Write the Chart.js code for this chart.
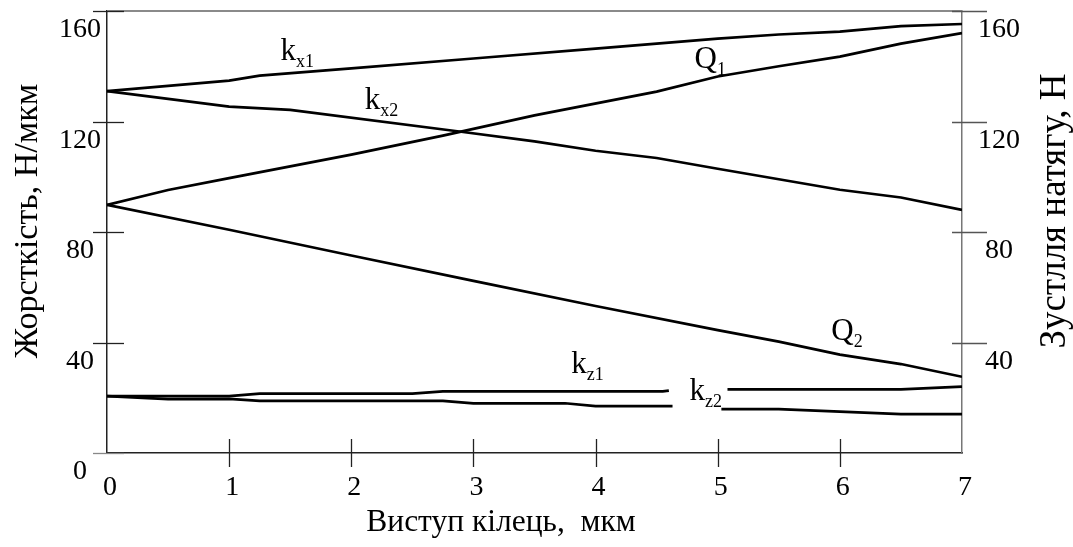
<!DOCTYPE html>
<html><head><meta charset="utf-8">
<script src="https://cdn.jsdelivr.net/npm/chart.js@4.4.1/dist/chart.umd.min.js"></script>
<style>html,body{margin:0;padding:0;background:#fff;}canvas{display:block;}</style>
</head><body>
<canvas id="c" width="1073" height="547"></canvas>
<script>
// ---- data ----
const xTickValues = [0, 1, 2, 3, 4, 5, 6, 7];
const yTickValues = [0, 40, 80, 120, 160];

const kx1X = [0, 1, 1.25, 2, 3, 4, 5, 5.5, 6, 6.5, 7];
const kx1Y = [131, 134.8, 136.6, 139.2, 142.8, 146.4, 150, 151.5, 152.5, 154.5, 155.3];

const kx2X = [0, 1, 1.5, 2.9, 3.5, 4, 4.5, 5, 6, 6.5, 7];
const kx2Y = [131, 125.4, 124.2, 116.3, 112.8, 109.4, 106.8, 102.9, 95.3, 92.5, 88];

const Q1X = [0, 0.5, 1, 2, 2.75, 3.5, 4.5, 5, 5.5, 6, 6.5, 7];
const Q1Y = [89.8, 95.2, 99.5, 108, 114.9, 122.2, 130.8, 136.3, 140, 143.5, 148.2, 152];

const Q2X = [0, 1, 2, 3, 4, 5, 5.5, 6, 6.5, 7];
const Q2Y = [89.8, 80.8, 71.5, 62.3, 53.2, 44.5, 40.3, 35.6, 32.2, 27.6];

const kz1X = [0, 1, 1.25, 2.5, 2.75, 4.55, 4.6, 4.8, 5.08, 6.5, 7];
const kz1Y = [20.6, 20.6, 21.5, 21.5, 22.3, 22.3, 22.6, null, 23.0, 23.0, 24.0];

const kz2X = [0, 0.5, 1, 1.25, 2.75, 3, 3.75, 4, 4.63, 4.8, 5.03, 5.5, 6.5, 7];
const kz2Y = [20.6, 19.5, 19.6, 18.9, 18.9, 18.0, 18.0, 17.0, 17.0, null, 15.9, 15.9, 14.1, 14.1];

const xTitle = 'Виступ кілець,  мкм';
const yLeftTitle = 'Жорсткість, Н/мкм';
const yRightTitle = 'Зустлля натягу, Н';

// curve labels: main letter, subscript, anchor in data coordinates
const curveLabels = [
  {main: 'k', sub: 'x1', x: 1.42, y: 142.3},
  {main: 'k', sub: 'x2', x: 2.11, y: 124.5},
  {main: 'Q', sub: '1',  x: 4.81, y: 139.4},
  {main: 'Q', sub: '2',  x: 5.93, y: 40.9},
  {main: 'k', sub: 'z1', x: 3.80, y: 29.0},
  {main: 'k', sub: 'z2', x: 4.77, y: 19.2}
];

function pts(xs, ys) { return xs.map((x, i) => ({x: x, y: ys[i]})); }

const FONT = '"Liberation Serif", "Times New Roman", serif';
Chart.defaults.font.family = FONT;
Chart.defaults.color = '#000';

const lineStyle = {borderColor: '#000', borderWidth: 2.7, pointRadius: 0, showLine: true, spanGaps: false, tension: 0, fill: false};

const decor = {
  id: 'decor',
  afterDraw(chart) {
    const ctx = chart.ctx;
    const x = chart.scales.x, y = chart.scales.y, y2 = chart.scales.y2;
    const a = chart.chartArea;
    ctx.save();
    // top frame line
    ctx.strokeStyle = '#8a8a8a'; ctx.lineWidth = 2;
    ctx.beginPath(); ctx.moveTo(a.left, a.top); ctx.lineTo(a.right, a.top); ctx.stroke();
    // left ticks
    yTickValues.forEach(v => {
      const p = Math.round(y.getPixelForValue(v)) + 0.5;
      ctx.strokeStyle = (v === 0) ? '#888' : '#222'; ctx.lineWidth = 1.3;
      ctx.beginPath(); ctx.moveTo(a.left - 14, p); ctx.lineTo(a.left + 17, p); ctx.stroke();
    });
    // right ticks
    yTickValues.forEach(v => {
      if (v === 0) return;
      const p = Math.round(y2.getPixelForValue(v)) + 0.5;
      ctx.strokeStyle = '#555'; ctx.lineWidth = 1.3;
      ctx.beginPath(); ctx.moveTo(a.right - 10, p); ctx.lineTo(a.right + 25, p); ctx.stroke();
    });
    // x ticks
    xTickValues.forEach(v => {
      if (v === 0 || v === 7) return;
      const p = Math.round(x.getPixelForValue(v)) + 0.5;
      ctx.strokeStyle = '#222'; ctx.lineWidth = 1.3;
      ctx.beginPath(); ctx.moveTo(p, a.bottom - 14); ctx.lineTo(p, a.bottom + 14); ctx.stroke();
    });
    // curve labels
    ctx.fillStyle = '#000';
    ctx.textBaseline = 'alphabetic';
    ctx.textAlign = 'left';
    curveLabels.forEach(l => {
      const px = x.getPixelForValue(l.x), py = y.getPixelForValue(l.y);
      ctx.font = '31px ' + FONT;
      ctx.fillText(l.main, px, py);
      const w = ctx.measureText(l.main).width;
      ctx.font = '18px ' + FONT;
      ctx.fillText(l.sub, px + w, py + 7);
    });
    // axis titles
    ctx.textAlign = 'center'; ctx.textBaseline = 'middle';
    ctx.font = '31.5px ' + FONT;
    ctx.fillText(xTitle, 501, 523);
    ctx.font = '34px ' + FONT;
    ctx.save(); ctx.translate(28, 221); ctx.rotate(-Math.PI / 2); ctx.fillText(yLeftTitle, 0, 0); ctx.restore();
    ctx.font = '37px ' + FONT;
    ctx.save(); ctx.translate(1055, 211); ctx.rotate(-Math.PI / 2); ctx.fillText(yRightTitle, 0, 0); ctx.restore();
    ctx.restore();
  }
};

const tickFont = {family: FONT, size: 28};

new Chart(document.getElementById('c'), {
  type: 'scatter',
  data: {
    datasets: [
      Object.assign({label: 'kx1', data: pts(kx1X, kx1Y), yAxisID: 'y'}, lineStyle),
      Object.assign({label: 'kx2', data: pts(kx2X, kx2Y), yAxisID: 'y'}, lineStyle),
      Object.assign({label: 'Q1', data: pts(Q1X, Q1Y), yAxisID: 'y2'}, lineStyle),
      Object.assign({label: 'Q2', data: pts(Q2X, Q2Y), yAxisID: 'y2'}, lineStyle),
      Object.assign({label: 'kz1', data: pts(kz1X, kz1Y), yAxisID: 'y'}, lineStyle),
      Object.assign({label: 'kz2', data: pts(kz2X, kz2Y), yAxisID: 'y'}, lineStyle)
    ]
  },
  options: {
    responsive: false,
    animation: false,
    events: [],
    layout: {padding: {top: 11, left: 0, right: 0, bottom: 0}},
    plugins: {legend: {display: false}, tooltip: {enabled: false}, title: {display: false}},
    scales: {
      x: {
        type: 'linear', position: 'bottom', min: 0, max: 7,
        afterBuildTicks: s => { s.ticks = xTickValues.map(v => ({value: v})); },
        ticks: {font: tickFont, color: '#000', padding: 18, labelOffset: 3, maxRotation: 0, autoSkip: false},
        grid: {display: false, drawTicks: false},
        border: {display: true, color: '#222', width: 1.5},
        afterFit: s => { s.height = 94; s.paddingLeft = 0; s.paddingRight = 0; }
      },
      y: {
        type: 'linear', position: 'left', min: 0, max: 160,
        afterBuildTicks: s => { s.ticks = yTickValues.map(v => ({value: v})); },
        ticks: {font: tickFont, color: '#000', padding: 6, labelOffset: 19, crossAlign: 'center'},
        grid: {display: false, drawTicks: false},
        border: {display: true, color: '#222', width: 1.5},
        afterFit: s => { s.width = 107; s.paddingTop = 0; s.paddingBottom = 0; }
      },
      y2: {
        type: 'linear', position: 'right', min: 0, max: 160,
        afterBuildTicks: s => { s.ticks = yTickValues.map(v => ({value: v})); },
        ticks: {font: tickFont, color: '#000', padding: 16, labelOffset: 19, crossAlign: 'center',
                callback: v => (v === 0 ? '' : String(v))},
        grid: {display: false, drawTicks: false},
        border: {display: true, color: '#777', width: 1.5},
        afterFit: s => { s.width = 111; s.paddingTop = 0; s.paddingBottom = 0; }
      }
    }
  },
  plugins: [decor]
});
</script>
</body></html>
